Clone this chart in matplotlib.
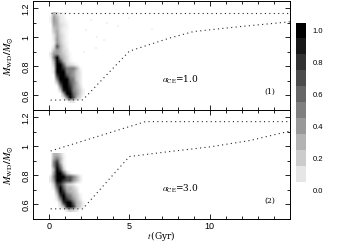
#WD mass vs time panels for two alpha_CE values
import matplotlib
matplotlib.use("Agg")
import matplotlib.pyplot as plt
from matplotlib.ticker import MultipleLocator
import numpy as np

plt.rcParams['font.family'] = 'Liberation Sans'
plt.rcParams['mathtext.fontset'] = 'stix'

#columns are t = 0.1, 0.3 ... 2.1 Gyr, rows go from high mass to low mass
t_edges = [0.0, 2.2]
grid1_edges = [0.55, 1.175]
grid2_edges = [0.55, 0.95]

grid1 = [
    [0.0, 3.0, 1.5, 0.5, 0.5, 0.0, 0.0, 0.0, 0.0, 0.0, 0.0],
    [0.5, 4.0, 2.5, 1.0, 0.5, 0.0, 0.0, 0.0, 0.0, 0.0, 0.0],
    [0.5, 4.0, 3.0, 1.0, 0.7, 0.3, 0.0, 0.0, 0.0, 0.0, 0.0],
    [0.0, 3.5, 3.0, 1.5, 1.0, 0.5, 0.0, 0.0, 0.0, 0.0, 0.0],
    [0.0, 2.5, 3.0, 1.5, 0.7, 0.5, 0.0, 0.0, 0.0, 0.0, 0.0],
    [0.0, 2.0, 3.5, 1.5, 0.7, 0.3, 0.0, 0.0, 0.0, 0.0, 0.0],
    [0.0, 1.0, 3.5, 2.0, 1.0, 0.3, 0.0, 0.0, 0.0, 0.0, 0.0],
    [0.0, 1.0, 4.0, 2.0, 1.0, 0.3, 0.0, 0.0, 0.0, 0.0, 0.0],
    [0.0, 0.5, 4.0, 2.5, 1.0, 0.5, 0.0, 0.0, 0.0, 0.0, 0.0],
    [0.0, 1.0, 7.0, 3.0, 1.5, 0.5, 0.0, 0.0, 0.0, 0.0, 0.0],
    [0.0, 2.5, 4.0, 3.0, 1.5, 1.0, 0.0, 0.0, 0.0, 0.0, 0.0],
    [1.0, 4.0, 4.0, 3.0, 2.0, 1.0, 0.3, 0.0, 0.0, 0.0, 0.0],
    [0.5, 5.0, 10., 4.0, 2.5, 1.5, 0.3, 0.0, 0.0, 0.0, 0.0],
    [0.0, 3.0, 10., 7.0, 3.0, 1.5, 0.5, 0.0, 0.0, 0.0, 0.0],
    [0.0, 2.0, 10., 10., 6.0, 2.0, 1.5, 1.0, 0.3, 0.0, 0.0],
    [0.0, 1.0, 10., 10., 8.0, 5.0, 5.0, 5.0, 3.0, 0.5, 0.0],
    [0.0, 1.0, 10., 10., 10., 5.0, 5.0, 4.0, 2.0, 1.0, 0.0],
    [0.0, 0.0, 8.0, 10., 10., 7.0, 5.0, 4.0, 2.0, 1.0, 0.0],
    [0.0, 0.0, 5.0, 10., 10., 10., 6.0, 5.0, 2.0, 1.0, 0.0],
    [0.0, 0.0, 2.0, 8.0, 10., 10., 7.0, 5.0, 3.0, 1.0, 0.0],
    [0.0, 0.0, 0.0, 5.0, 10., 10., 8.0, 5.0, 3.0, 1.5, 0.0],
    [0.0, 0.0, 0.0, 2.0, 9.0, 10., 9.0, 5.0, 3.5, 2.0, 0.5],
    [0.0, 0.0, 0.0, 0.0, 4.0, 10., 10., 6.0, 4.0, 2.0, 0.5],
    [0.0, 0.0, 0.0, 0.0, 1.0, 5.0, 10., 7.0, 3.0, 1.5, 0.0],
    [0.0, 0.0, 0.0, 0.0, 0.0, 0.0, 1.0, 1.0, 0.0, 0.0, 0.0],
]

grid2 = [
    [0.0, 3.0, 3.0, 2.0, 0.5, 0.0, 0.0, 0.0, 0.0, 0.0, 0.0],
    [0.0, 3.5, 5.0, 3.0, 0.7, 0.0, 0.0, 0.0, 0.0, 0.0, 0.0],
    [0.0, 5.0, 8.0, 3.0, 0.5, 0.0, 0.0, 0.0, 0.0, 0.0, 0.0],
    [0.0, 5.0, 9.0, 5.0, 1.0, 0.0, 0.0, 0.0, 0.0, 0.0, 0.0],
    [0.0, 3.0, 10., 7.0, 2.0, 0.0, 0.0, 0.0, 0.0, 0.0, 0.0],
    [0.0, 4.0, 10., 10., 6.0, 2.0, 0.5, 0.0, 0.0, 0.0, 0.0],
    [1.0, 5.0, 10., 10., 10., 7.0, 7.0, 5.0, 3.0, 1.0, 0.0],
    [1.0, 4.0, 10., 10., 8.0, 7.0, 7.0, 4.0, 2.5, 1.0, 0.0],
    [0.0, 2.0, 8.0, 8.0, 5.0, 2.0, 1.5, 1.0, 0.0, 0.0, 0.0],
    [0.0, 1.0, 6.0, 10., 6.0, 3.0, 3.0, 2.0, 1.0, 0.0, 0.0],
    [0.0, 0.0, 4.0, 10., 8.0, 4.0, 3.0, 2.5, 1.5, 0.0, 0.0],
    [0.0, 0.0, 2.0, 8.0, 10., 6.0, 5.0, 3.0, 2.0, 0.7, 0.0],
    [0.0, 0.0, 1.0, 5.0, 10., 8.0, 6.0, 4.0, 2.5, 1.0, 0.0],
    [0.0, 0.0, 0.0, 2.0, 8.0, 10., 10., 6.0, 3.0, 2.0, 0.5],
    [0.0, 0.0, 0.0, 1.0, 3.0, 9.0, 10., 8.0, 3.0, 2.0, 0.5],
    [0.0, 0.0, 0.0, 0.0, 0.0, 1.0, 2.0, 1.5, 1.0, 0.0, 0.0],
]

#dotted limit lines
upper1_t = [0.1, 15.0]
upper1_m = [1.17, 1.17]
lower1_t = [0.1, 2.1, 5.0, 7.5, 9.0, 12.0, 15.0]
lower1_m = [0.568, 0.57, 0.905, 0.995, 1.04, 1.075, 1.107]

upper2_t = [0.1, 6.0, 15.0]
upper2_m = [0.968, 1.17, 1.17]
lower2_t = [0.1, 2.1, 5.0, 7.5, 10.0, 12.5, 15.0]
lower2_m = [0.57, 0.57, 0.93, 0.964, 0.996, 1.04, 1.105]

#faint stray cells in the top panel
faint_t = [2.3, 2.6, 3.0, 3.4, 4.3, 5.0, 3.6, 2.9, 6.4, 2.2]
faint_m = [1.05, 1.12, 1.0, 0.98, 1.08, 1.13, 1.1, 0.93, 1.06, 0.9]

cbar_values = [1.0, 0.9, 0.8, 0.7, 0.6, 0.5, 0.4, 0.3, 0.2, 0.1, 0.0]
cbar_ticks = [0.0, 0.2, 0.4, 0.6, 0.8, 1.0]

W = 342.0
H = 241.0

def make_axes(left, top, right, bottom):
    return fig.add_axes([left/W, 1-bottom/H, (right-left)/W, (bottom-top)/H])

def draw_panel(ax, grid, edges, upper_t, upper_m, lower_t, lower_m):
    ax.imshow(np.array(grid)/10.0, cmap='gray_r', vmin=0, vmax=1, aspect='auto',
              interpolation='bilinear', extent=[t_edges[0], t_edges[1], edges[0], edges[1]],
              origin='upper')
    ax.plot(upper_t, upper_m, color='0.15', lw=0.8, ls=(0, (1, 3)))
    ax.plot(lower_t, lower_m, color='0.15', lw=0.8, ls=(0, (1, 3)))
    ax.set_xlim(-1, 15)
    ax.set_ylim(0.5, 1.25)
    ax.xaxis.set_major_locator(MultipleLocator(5))
    ax.xaxis.set_minor_locator(MultipleLocator(1))
    ax.set_yticks([0.6, 0.8, 1.0, 1.2])
    ax.set_yticklabels(['0.6', '0.8', '1', '1.2'], rotation=90, va='center')
    ax.yaxis.set_minor_locator(MultipleLocator(0.1))
    ax.tick_params(which='major', direction='in', top=True, right=True, length=3.5, width=0.6, labelsize=6.5, pad=2)
    ax.tick_params(which='minor', direction='in', top=True, right=True, length=2, width=0.6)
    ax.set_ylabel(r'$\boldsymbol{M_{\rm WD}/M_{\odot}}$', fontsize=7.5, labelpad=4)
    for s in ax.spines.values():
        s.set_linewidth(0.7)

fig = plt.figure(figsize=(W/100, H/100), dpi=100)

ax1 = make_axes(33, 1, 290, 110)
ax2 = make_axes(33, 110, 290, 219)

draw_panel(ax1, grid1, grid1_edges, upper1_t, upper1_m, lower1_t, lower1_m)
draw_panel(ax2, grid2, grid2_edges, upper2_t, upper2_m, lower2_t, lower2_m)

ax1.scatter(faint_t, faint_m, marker='s', s=4, color='0.95', linewidths=0, zorder=1)
ax1.tick_params(labelbottom=False)
ax2.set_xticks([0, 5, 10])
ax2.set_xticklabels(['0', '5', '10'])
ax2.set_xlabel(r'$\mathit{t}\,$(Gyr)', fontsize=6.5, labelpad=-1.5, family='serif')

ax1.text(7.0, 0.71, r'$\alpha_{\rm CE}$=1.0', fontsize=6.5, family='serif', ha='left', va='center')
ax2.text(7.0, 0.71, r'$\alpha_{\rm CE}$=3.0', fontsize=6.5, family='serif', ha='left', va='center')
ax1.text(13.75, 0.625, '(1)', fontsize=5.5, family='serif', ha='center', va='center')
ax2.text(13.75, 0.625, '(2)', fontsize=5.5, family='serif', ha='center', va='center')

#colour key, one cell per level, the 0.0 cell is white
cax = make_axes(295.7, 22.7, 305.7, 198)
cax.imshow(np.array(cbar_values).reshape(-1, 1), cmap='gray_r', vmin=0, vmax=1, aspect='auto',
           extent=[0, 1, -0.05, 1.05], origin='upper', interpolation='nearest')
cax.set_xticks([])
cax.yaxis.tick_right()
cax.set_yticks(cbar_ticks)
cax.set_yticklabels(['%.1f' % v for v in cbar_ticks])
cax.tick_params(length=0, labelsize=5.5, pad=5)
for s in cax.spines.values():
    s.set_visible(False)

fig.savefig('out.png', dpi=100)
